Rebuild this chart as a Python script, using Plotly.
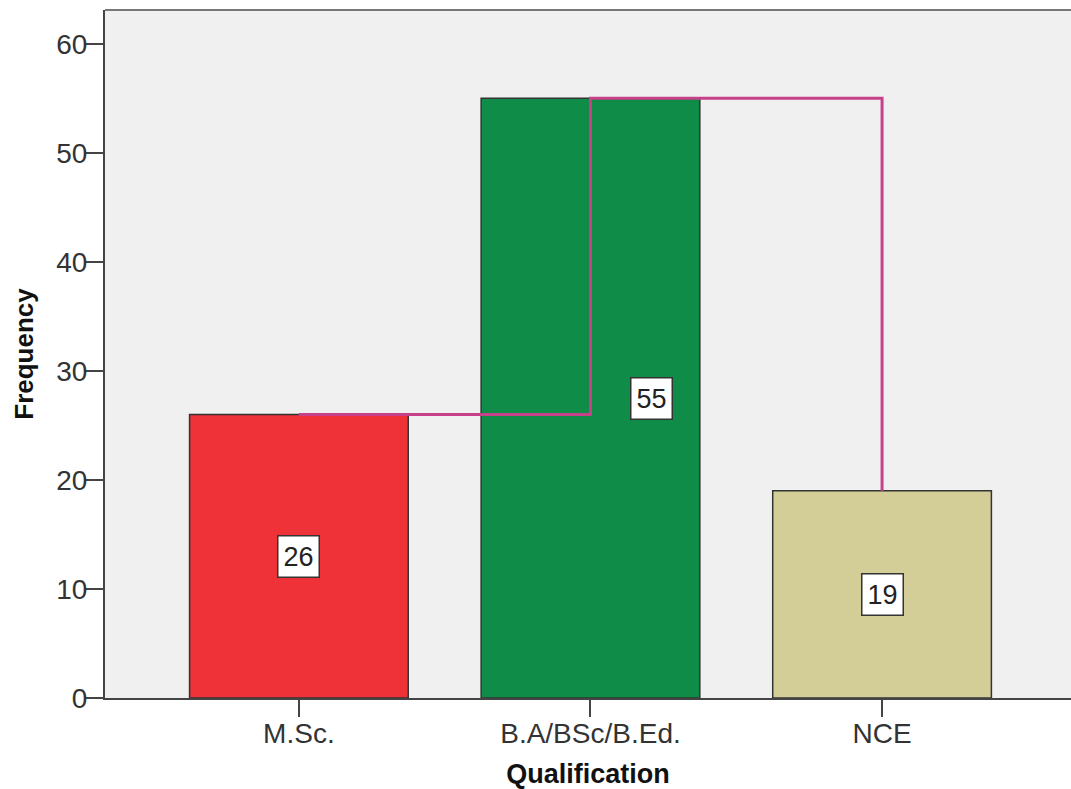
import plotly.graph_objects as go

categories = ["M.Sc.", "B.A/BSc/B.Ed.", "NCE"]
frequency = [26, 55, 19]
bar_colors = ["#EE3238", "#0F8C47", "#D3CE98"]
label_shift = [0, 61, 0]
y_ticks = [0, 10, 20, 30, 40, 50, 60]

FONT = "Liberation Sans, Arial, sans-serif"

fig = go.Figure()

fig.add_trace(go.Bar(
    x=categories, y=frequency, width=0.75,
    marker=dict(color=bar_colors, line=dict(color="#333333", width=1.5)),
    hoverinfo="skip", showlegend=False,
))

fig.add_trace(go.Scatter(
    x=categories, y=frequency, mode="lines", line_shape="hv",
    line=dict(color="#C7408A", width=3), hoverinfo="skip", showlegend=False,
))

for c, v, s in zip(categories, frequency, label_shift):
    fig.add_annotation(
        x=c, y=v / 2, text=str(v), showarrow=False, xshift=s,
        font=dict(family=FONT, size=27, color="#222222"),
        bgcolor="white", bordercolor="#333333", borderwidth=1.5, borderpad=5,
    )

fig.add_shape(type="line", xref="paper", yref="paper", x0=0, x1=1, y0=1, y1=1,
              line=dict(color="#777777", width=2))

fig.update_layout(
    width=1071, height=789,
    margin=dict(l=105, r=0, t=10, b=91),
    paper_bgcolor="white", plot_bgcolor="#F0F0F0",
    font=dict(family=FONT, color="#333333"),
    xaxis=dict(
        range=[-0.665, 2.648], showgrid=False, zeroline=False,
        showline=True, linecolor="#444444", linewidth=2,
        ticks="outside", ticklen=17, tickwidth=2, tickcolor="#444444",
        ticklabelstandoff=-8,
        tickfont=dict(family=FONT, size=28, color="#333333"),
        title=dict(text="<b>Qualification</b>", font=dict(family=FONT, size=27, color="#111111"), standoff=19),
    ),
    yaxis=dict(
        range=[0, 63.1], showgrid=False, zeroline=False,
        showline=True, linecolor="#444444", linewidth=2,
        tickvals=y_ticks, ticks="outside", ticklen=18, tickwidth=2, tickcolor="#444444",
        ticklabelstandoff=-8,
        tickfont=dict(family=FONT, size=28, color="#333333"),
        title=dict(text="<b>Frequency</b>", font=dict(family=FONT, size=26, color="#111111"), standoff=15),
    ),
)

fig.write_html("out.html")
